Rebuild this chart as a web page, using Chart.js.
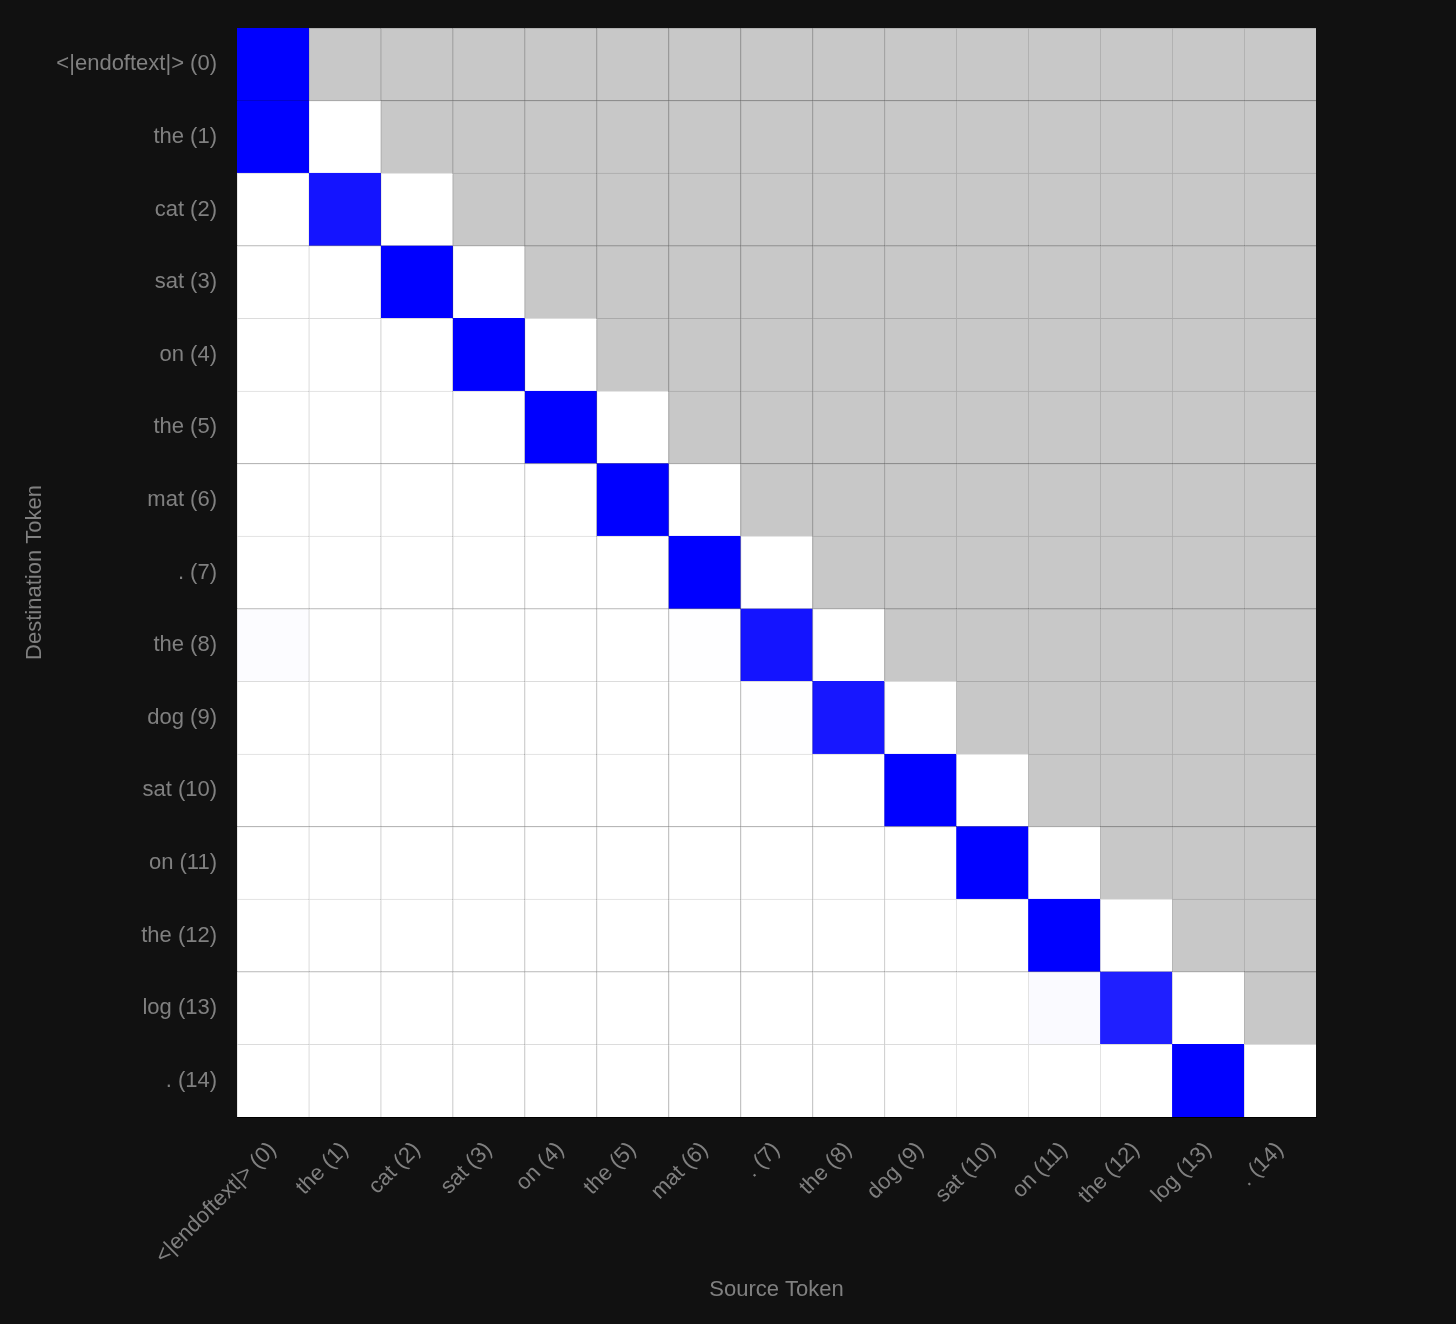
<!DOCTYPE html>
<html>
<head>
<meta charset="utf-8">
<script src="https://cdn.jsdelivr.net/npm/chart.js@4.4.1/dist/chart.umd.min.js"></script>
<style>
  html, body { margin: 0; padding: 0; background: #111111; }
  canvas { display: block; }
</style>
</head>
<body>
<canvas id="attn" width="1456" height="1324"></canvas>
<script>
// token labels
const tokens = ['<|endoftext|> (0)', 'the (1)', 'cat (2)', 'sat (3)', 'on (4)', 'the (5)', 'mat (6)',
  '. (7)', 'the (8)', 'dog (9)', 'sat (10)', 'on (11)', 'the (12)', 'log (13)', '. (14)'];

// attention rows (destination), one value per source up to the diagonal; later cells are masked
const row0 = [1];
const row1 = [1, 0];
const row2 = [0, 0.92, 0];
const row3 = [0, 0, 1, 0];
const row4 = [0, 0, 0, 1, 0];
const row5 = [0, 0, 0, 0, 1, 0];
const row6 = [0, 0, 0, 0, 0, 1, 0];
const row7 = [0, 0, 0, 0, 0, 0, 1, 0];
const row8 = [0.01, 0, 0, 0, 0, 0, 0.005, 0.92, 0];
const row9 = [0, 0, 0, 0, 0, 0, 0, 0.005, 0.91, 0];
const row10 = [0, 0, 0, 0, 0, 0, 0, 0, 0, 1, 0];
const row11 = [0, 0, 0, 0, 0, 0, 0, 0, 0, 0, 1, 0];
const row12 = [0, 0, 0, 0, 0, 0, 0, 0, 0, 0, 0, 1, 0];
const row13 = [0, 0, 0, 0, 0, 0, 0, 0, 0, 0, 0, 0.02, 0.88, 0];
const row14 = [0, 0, 0, 0, 0, 0, 0, 0, 0, 0, 0, 0, 0, 1, 0];
const rows = [row0, row1, row2, row3, row4, row5, row6, row7, row8, row9, row10, row11, row12, row13, row14];

const textColor = '#808080';
const font = { family: '"Liberation Sans", Arial, Helvetica, sans-serif', size: 22 };

function cellColor(v) {
  if (v === undefined) return '#c8c8c8';
  const c = Math.round(255 * (1 - v));
  return 'rgb(' + c + ',' + c + ',255)';
}
function cellBorder(v) {
  if (v === undefined) return '#aaaaaa';
  if (v > 0.5) return cellColor(v);
  return '#dcdcdc';
}

// one dataset per source column, a floating bar [j, j+1] in each destination row
const datasets = tokens.map((_, j) => ({
  label: tokens[j],
  data: rows.map(() => [j, j + 1]),
  backgroundColor: rows.map(r => cellColor(r[j])),
  borderColor: rows.map(r => cellBorder(r[j])),
  borderWidth: { top: 1, left: 1, right: 0, bottom: 0 },
  borderSkipped: false,
  barPercentage: 1,
  categoryPercentage: 1,
  grouped: false
}));

new Chart(document.getElementById('attn'), {
  type: 'bar',
  data: { labels: tokens, datasets: datasets },
  options: {
    indexAxis: 'y',
    responsive: false,
    animation: false,
    layout: { padding: { top: 28, right: 140, left: 14, bottom: 13 } },
    plugins: { legend: { display: false }, tooltip: { enabled: false } },
    scales: {
      x: {
        type: 'linear',
        min: 0,
        max: tokens.length,
        afterBuildTicks: s => { s.ticks = tokens.map((_, i) => ({ value: i + 0.5 })); },
        afterFit: s => { s.height = 194; s.paddingRight = 0; },
        ticks: {
          autoSkip: false,
          minRotation: 45,
          maxRotation: 45,
          padding: 20,
          color: textColor,
          font: font,
          callback: (v, i) => tokens[i]
        },
        grid: { display: false, drawTicks: false },
        border: { display: true, color: '#000000' },
        title: { display: true, text: 'Source Token', color: textColor, font: font, padding: 8 }
      },
      y: {
        type: 'category',
        afterFit: s => { s.width = 223; s.paddingTop = 0; s.paddingBottom = 0; },
        ticks: { padding: 20, color: textColor, font: font },
        grid: { display: false, drawTicks: false },
        border: { display: true, color: '#000000' },
        title: { display: true, text: 'Destination Token', color: textColor, font: font, padding: 8 }
      }
    }
  }
});
</script>
</body>
</html>
